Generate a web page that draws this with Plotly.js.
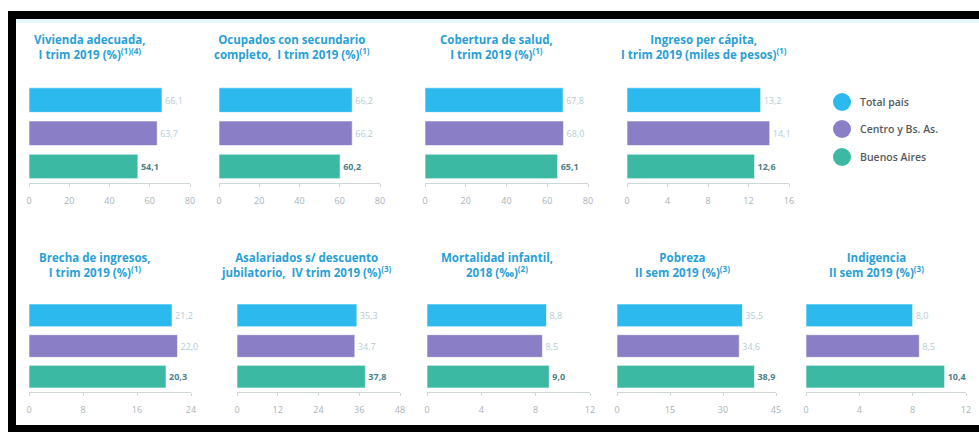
<!DOCTYPE html>
<html>
<head>
<meta charset="utf-8">
<script src="https://cdn.plot.ly/plotly-3.0.1.min.js"></script>
<style>
html,body{margin:0;padding:0;background:#fff;}
#chart{width:979px;height:432px;}
</style>
</head>
<body>
<div id="chart"></div>
<script>
// ---- Data ----
const seriesNames = ['Total país', 'Centro y Bs. As.', 'Buenos Aires'];
const panelTitles = [
  'Vivienda adecuada,<br>I trim 2019 (%)<sup>(1)(4)</sup>',
  'Ocupados con secundario<br>completo,  I trim 2019 (%)<sup>(1)</sup>',
  'Cobertura de salud,<br>I trim 2019 (%)<sup>(1)</sup>',
  'Ingreso per cápita,<br>I trim 2019 (miles de pesos)<sup>(1)</sup>',
  'Brecha de ingresos,<br>I trim 2019 (%)<sup>(1)</sup>',
  'Asalariados s/ descuento<br>jubilatorio,  IV trim 2019 (%)<sup>(3)</sup>',
  'Mortalidad infantil,<br>2018 (‰)<sup>(2)</sup>',
  'Pobreza<br>II sem 2019 (%)<sup>(3)</sup>',
  'Indigencia<br>II sem 2019 (%)<sup>(3)</sup>'
];
const totalPais   = [66.1, 66.2, 67.8, 13.2, 21.2, 35.3, 8.8, 35.5, 8.0];
const centroBsAs  = [63.7, 66.2, 68.0, 14.1, 22.0, 34.7, 8.5, 34.6, 8.5];
const buenosAires = [54.1, 60.2, 65.1, 12.6, 20.3, 37.8, 9.0, 38.9, 10.4];
const axisMax     = [80, 80, 80, 16, 24, 48, 12, 45, 12];
const axisStep    = [20, 20, 20, 4, 8, 12, 4, 15, 4];

// ---- Layout geometry (pixels) ----
const W = 979, H = 432;
const px = x => x / W;
const py = y => 1 - y / H;
const xDom = [[29,190],[219,380],[425,588],[627,789],[29,191],[237,400],[427,590],[617,776],[806,966]];
const rowY = [[83.5,183],[300,392]];
const titleX = [90, 292, 496, 704, 95, 306, 497, 682, 876];
const titleY = [47, 265];

const colors = ['#2bb9ee', '#8a7fc6', '#3cb9a2'];
const labelColors = ['#b3cdd6', '#b3cdd6', '#4f7f8a'];
const titleColor = '#2a9fd6';

const traces = [];
const layout = {
  width: W, height: H,
  margin: {l:0, r:0, t:0, b:0},
  paper_bgcolor: '#ffffff',
  plot_bgcolor: 'rgba(0,0,0,0)',
  showlegend: false,
  bargap: 0.26,
  separators: ',.',
  font: {family: 'Open Sans, sans-serif'},
  annotations: [],
  shapes: []
};

for (let i = 0; i < 9; i++) {
  const n = i === 0 ? '' : String(i + 1);
  const row = i < 4 ? 0 : 1;
  const vals = [totalPais[i], centroBsAs[i], buenosAires[i]];
  traces.push({
    type: 'bar',
    orientation: 'h',
    x: vals,
    y: seriesNames,
    xaxis: 'x' + n,
    yaxis: 'y' + n,
    marker: {color: colors, line: {color: 'rgba(255,255,255,0.6)', width: 1}},
    text: vals.map(v => v.toFixed(1).replace('.', ',')),
    textposition: 'outside',
    cliponaxis: false,
    textfont: {size: 9, color: labelColors, family: 'Open Sans, sans-serif', weight: [400, 400, 700]},
    hoverinfo: 'x+y'
  });
  layout['xaxis' + n] = {
    domain: [px(xDom[i][0]), px(xDom[i][1])],
    anchor: 'y' + n,
    range: [0, axisMax[i]],
    dtick: axisStep[i],
    tick0: 0,
    showgrid: false,
    zeroline: false,
    showline: true,
    linecolor: '#cfd6d8',
    linewidth: 1,
    ticks: 'outside',
    ticklen: 3,
    tickcolor: '#cfd6d8',
    ticklabelstandoff: 6,
    tickfont: {size: 9, color: '#aab2b5', family: 'Open Sans, sans-serif'},
    fixedrange: true
  };
  layout['yaxis' + n] = {
    domain: [py(rowY[row][1]), py(rowY[row][0])],
    anchor: 'x' + n,
    type: 'category',
    autorange: 'reversed',
    visible: false,
    fixedrange: true
  };
  layout.annotations.push({
    xref: 'paper', yref: 'paper',
    x: px(titleX[i]), y: py(titleY[row]),
    xanchor: 'center', yanchor: 'middle',
    text: panelTitles[i],
    showarrow: false,
    align: 'center',
    font: {size: 11.5, color: titleColor, family: 'Open Sans, sans-serif', weight: 700}
  });
}

// Legend (drawn manually with circles)
const legY = [102, 129, 157];
seriesNames.forEach((name, k) => {
  layout.shapes.push({
    type: 'circle', xref: 'paper', yref: 'paper',
    x0: px(833), x1: px(851), y0: py(legY[k] + 9), y1: py(legY[k] - 9),
    fillcolor: colors[k], line: {width: 0}
  });
  layout.annotations.push({
    xref: 'paper', yref: 'paper',
    x: px(858), y: py(legY[k]),
    xanchor: 'left', yanchor: 'middle',
    text: name, showarrow: false,
    font: {size: 10.5, color: '#555b5e', family: 'Open Sans, sans-serif', weight: 600}
  });
});

// Frame (black border as in the reference)
layout.shapes.push(
  {type:'rect', xref:'paper', yref:'paper', x0:px(16), x1:1, y0:py(23), y1:py(19), fillcolor:'#e6f8fb', line:{width:0}, layer:'below'},
  {type:'rect', xref:'paper', yref:'paper', x0:px(8), x1:1, y0:py(19), y1:py(11), fillcolor:'#000', line:{width:0}},
  {type:'rect', xref:'paper', yref:'paper', x0:px(8), x1:px(16), y0:0, y1:py(11), fillcolor:'#000', line:{width:0}},
  {type:'rect', xref:'paper', yref:'paper', x0:px(8), x1:1, y0:0, y1:py(425), fillcolor:'#000', line:{width:0}}
);

Plotly.newPlot('chart', traces, layout, {displayModeBar: false, staticPlot: true});
</script>
</body>
</html>
